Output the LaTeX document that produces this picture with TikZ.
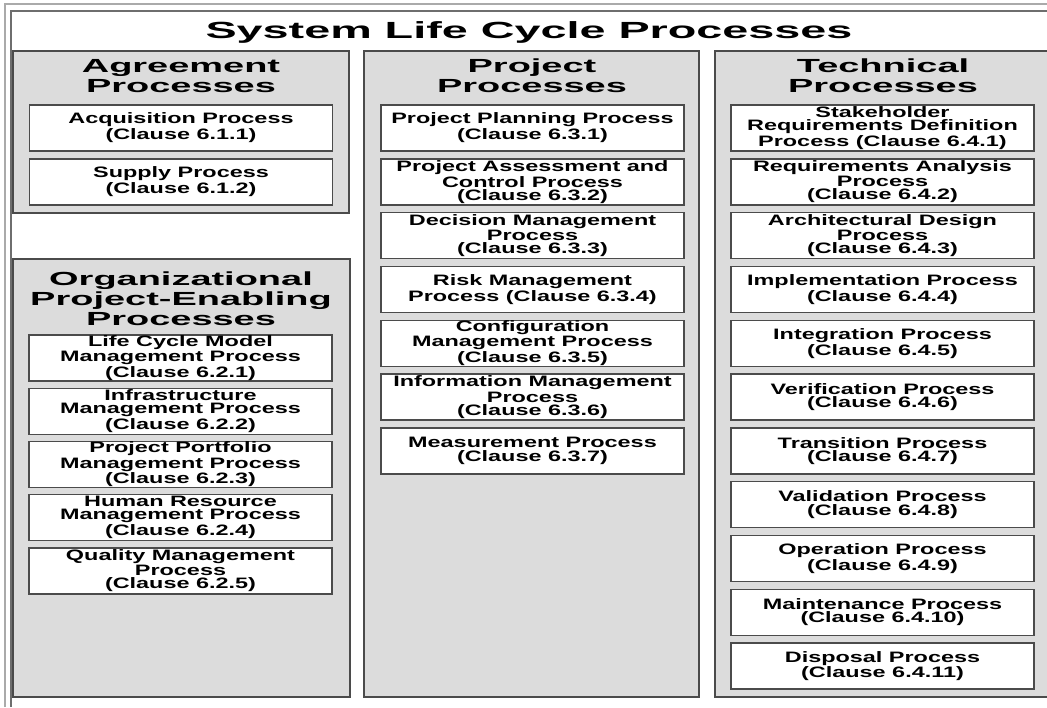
\documentclass[tikz,border=0pt]{standalone}
\usepackage{fontspec}
\setmainfont{Liberation Sans}
\newfontfamily\widefont[FakeStretch=2.0]{Liberation Sans}
\newfontfamily\boxfont[FakeStretch=1.55]{Liberation Sans}
\usepackage{tikz}
\definecolor{panelgray}{RGB}{220,220,220}
\definecolor{edgegray}{RGB}{75,75,75}
\definecolor{framelight}{RGB}{170,170,170}
\definecolor{framedark}{RGB}{110,110,110}
\tikzset{
    panel/.style={draw=edgegray, fill=panelgray, line width=1.2pt},
    proc/.style={draw=edgegray, fill=white, line width=0.8pt, minimum width=6.06cm, minimum height=0.92cm, inner sep=0pt, align=center, font=\boxfont\bfseries\fontsize{8.6}{7.5}\selectfont},
    heading/.style={align=center, inner sep=0pt, font=\widefont\bfseries\fontsize{10.8}{11.3}\selectfont},
    frameline/.style={draw=framelight, line width=1pt}
}

\begin{document}
\begin{tikzpicture}[x=0.02cm,y=-0.02cm]
\clip (0,0) rectangle (1047,707);
\fill[white] (0,0) rectangle (1047,707);
\draw[frameline] (5,707) -- (5,4) -- (1047,4);
\draw[frameline, draw=framedark] (11,707) -- (11,11) -- (1047,11);
\node[anchor=base, inner sep=0pt, font=\widefont\bfseries\fontsize{13.3}{14}\selectfont] (title) at (529,38) {System Life Cycle Processes};
\draw[panel] (13,51) rectangle (349,213);
\draw[panel] (13,259) rectangle (350,697);
\draw[panel] (364,51) rectangle (699,697);
\draw[panel] (715,51) rectangle (1060,697);
\node[heading] (agrhead) at (181,76) {Agreement\\Processes};
\node[heading] (orghead) at (181,299) {Organizational\\Project-Enabling\\Processes};
\node[heading] (prjhead) at (532,76) {Project\\Processes};
\node[heading] (techhead) at (883,76) {Technical\\Processes};
\node[proc] (agr1) at (181,128) {Acquisition Process\\(Clause 6.1.1)};
\node[proc] (agr2) at (181,182) {Supply Process\\(Clause 6.1.2)};
\foreach \txt [count=\i] in {
    {Life Cycle Model\\Management Process\\(Clause 6.2.1)},
    {Infrastructure\\Management Process\\(Clause 6.2.2)},
    {Project Portfolio\\Management Process\\(Clause 6.2.3)},
    {Human Resource\\Management Process\\(Clause 6.2.4)},
    {Quality Management\\Process\\(Clause 6.2.5)}}
    \node[proc] (org\i) at (180.5,{358+53.2*(\i-1)}) {\txt};
\foreach \txt [count=\i] in {
    {Project Planning Process\\(Clause 6.3.1)},
    {Project Assessment and\\Control Process\\(Clause 6.3.2)},
    {Decision Management\\Process\\(Clause 6.3.3)},
    {Risk Management\\Process (Clause 6.3.4)},
    {Configuration\\Management Process\\(Clause 6.3.5)},
    {Information Management\\Process\\(Clause 6.3.6)},
    {Measurement Process\\(Clause 6.3.7)}}
    \node[proc] (prj\i) at (532.5,{128+53.8*(\i-1)}) {\txt};
\foreach \txt [count=\i] in {
    {Stakeholder\\Requirements Definition\\Process (Clause 6.4.1)},
    {Requirements Analysis\\Process\\(Clause 6.4.2)},
    {Architectural Design\\Process\\(Clause 6.4.3)},
    {Implementation Process\\(Clause 6.4.4)},
    {Integration Process\\(Clause 6.4.5)},
    {Verification Process\\(Clause 6.4.6)},
    {Transition Process\\(Clause 6.4.7)},
    {Validation Process\\(Clause 6.4.8)},
    {Operation Process\\(Clause 6.4.9)},
    {Maintenance Process\\(Clause 6.4.10)},
    {Disposal Process\\(Clause 6.4.11)}}
    \node[proc] (tech\i) at (882.5,{128+53.8*(\i-1)}) {\txt};
\end{tikzpicture}
\end{document}
